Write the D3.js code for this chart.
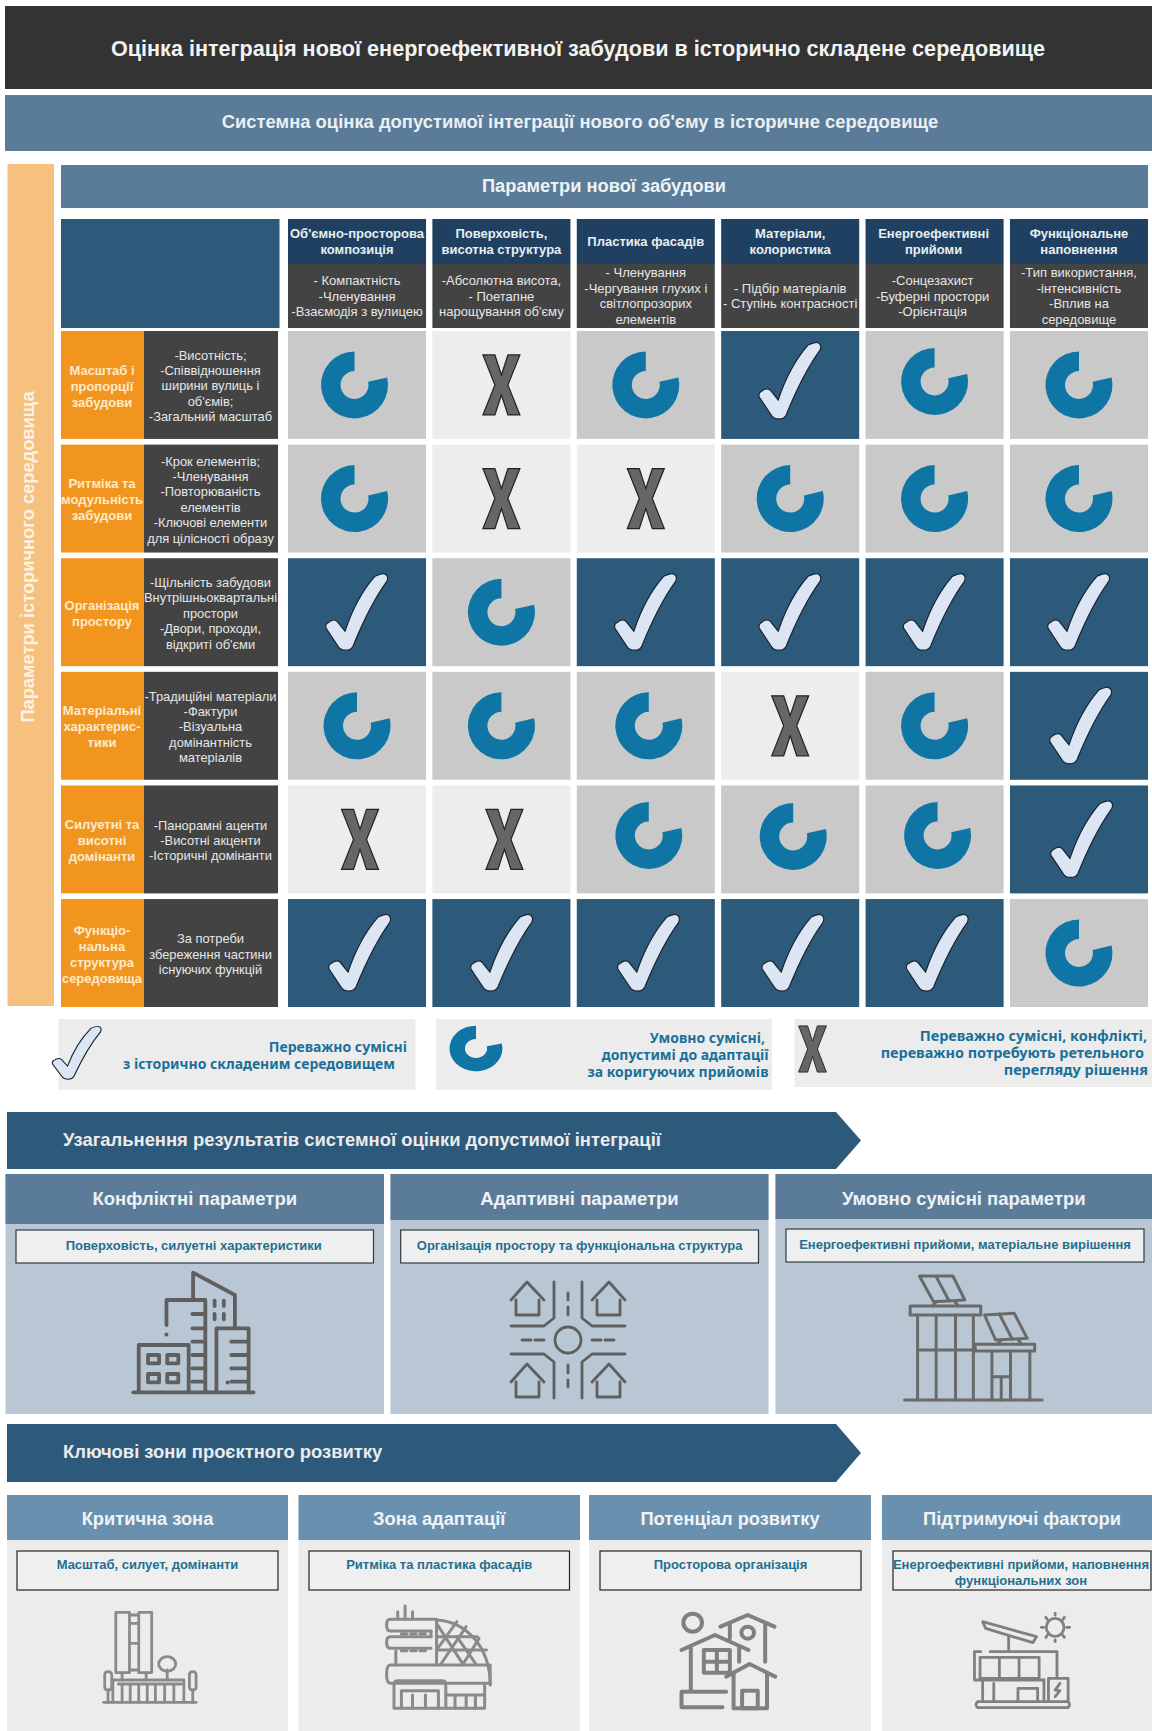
<!DOCTYPE html>
<html lang="uk">
<head>
<meta charset="utf-8">
<title>Оцінка інтеграції нової забудови</title>
<script src="https://cdnjs.cloudflare.com/ajax/libs/d3/7.8.5/d3.min.js"></script>
<style>
  html, body { margin: 0; padding: 0; background: #fff; }
  svg { display: block; }
  text { font-family: "Liberation Sans", Arial, sans-serif; }
  .legend-text { font-family: "Noto Sans", sans-serif; font-weight: 700; fill: #1a7099; }
</style>
</head>
<body>
<div id="chart"></div>
<script>
var titleText = "Оцінка інтеграція нової енергоефективної забудови в історично складене середовище";
var subtitleText = "Системна оцінка допустимої інтеграції нового об'єму в історичне середовище";
var sideText = "Параметри історичного середовища";
var topBandText = "Параметри нової забудови";

var columns = [
  ["Об'ємно-просторова", "композиція"],
  ["Поверховість,", "висотна структура"],
  ["Пластика фасадів"],
  ["Матеріали,", "колористика"],
  ["Енергоефективні", "прийоми"],
  ["Функціональне", "наповнення"]
];
var columnNotes = [
  ["- Компактність", "-Членування", "-Взаємодія з вулицею"],
  ["-Абсолютна висота,", "- Поетапне", "нарощування об'єму"],
  ["- Членування", "-Чергування глухих і", "світлопрозорих", "елементів"],
  ["- Підбір матеріалів", "- Ступінь контрасності"],
  ["-Сонцезахист", "-Буферні простори", "-Орієнтація"],
  ["-Тип використання,", "-інтенсивність", "-Вплив на", "середовище"]
];
var rows = [
  ["Масштаб і", "пропорції", "забудови"],
  ["Ритміка та", "модульність", "забудови"],
  ["Організація", "простору"],
  ["Матеріальні", "характерис-", "тики"],
  ["Силуетні та", "висотні", "домінанти"],
  ["Функціо-", "нальна", "структура", "середовища"]
];
var rowNotes = [
  ["-Висотність;", "-Співвідношення", "ширини вулиць і", "об'ємів;", "-Загальний масштаб"],
  ["-Крок елементів;", "-Членування", "-Повторюваність", "елементів", "-Ключові елементи", "для цілісності образу"],
  ["-Щільність забудови", "Внутрішньоквартальні", "простори", "-Двори, проходи,", "відкриті об'єми"],
  ["-Традиційні матеріали", "-Фактури", "-Візуальна", "домінантність", "матеріалів"],
  ["-Панорамні аценти", "-Висотні акценти", "-Історичні домінанти"],
  ["За потреби", "збереження частини", "існуючих функцій"]
];
// y = сумісні, c = умовно сумісні, n = конфлікт
var ratings = [
  ["c", "n", "c", "y", "c", "c"],
  ["c", "n", "n", "c", "c", "c"],
  ["y", "c", "y", "y", "y", "y"],
  ["c", "c", "c", "n", "c", "y"],
  ["n", "n", "c", "c", "c", "y"],
  ["y", "y", "y", "y", "y", "c"]
];

var legendYes = ["Переважно сумісні", "з історично складеним середовищем"];
var legendCond = ["Умовно сумісні,", "допустимі до адаптації", "за коригуючих прийомів"];
var legendNo = ["Переважно сумісні, конфлікті,", "переважно потребують ретельного", "перегляду рішення"];

var arrowTitle1 = "Узагальнення результатів системної оцінки допустимої інтеграції";
var arrowTitle2 = "Ключові зони проєктного розвитку";
var summaryTitles = ["Конфліктні параметри", "Адаптивні параметри", "Умовно сумісні параметри"];
var summaryNotes = ["Поверховість, силуетні характеристики", "Організація простору та функціональна структура", "Енергоефективні прийоми, матеріальне вирішення"];
var zoneTitles = ["Критична зона", "Зона адаптації", "Потенціал розвитку", "Підтримуючі фактори"];
var zoneNotes = [
  ["Масштаб, силует, домінанти"],
  ["Ритміка та пластика фасадів"],
  ["Просторова організація"],
  ["Енергоефективні прийоми, наповнення", "функціональних зон"]
];

var svg = d3.select("#chart").append("svg")
  .attr("width", 1152)
  .attr("height", 1731)
  .attr("viewBox", "0 0 1152 1731");

var blue = "#2d5a7b", steel = "#5b7c99", dark = "#434343", orange = "#f2951e";

function box(parent, x0, y0, x1, y1, fill) {
  return parent.append("rect")
    .attr("x", x0).attr("y", y0)
    .attr("width", x1 - x0).attr("height", y1 - y0)
    .attr("fill", fill);
}

// багаторядковий текст, cy - центр блоку
function lines(parent, list, x, cy, lh, size, weight, color, anchor) {
  var t = parent.append("text")
    .attr("text-anchor", anchor || "middle")
    .attr("font-size", size)
    .attr("font-weight", weight)
    .attr("fill", color);
  list.forEach(function(s, i) {
    t.append("tspan")
      .attr("x", x)
      .attr("y", cy + (i - (list.length - 1) / 2) * lh + size * 0.35)
      .text(s);
  });
  return t;
}

// шапка
box(svg, 5, 6, 1152, 89, "#333333");
lines(svg, [titleText], 578, 48.5, 0, 21.6, 700, "#f2f2f2");
box(svg, 5, 95, 1152, 151, steel);
lines(svg, [subtitleText], 580, 122, 0, 18.4, 700, "#eaf0f4");

box(svg, 7.5, 164, 54, 1006, "#f6c07e");
svg.append("text")
  .attr("transform", "translate(34,557) rotate(-90)")
  .attr("text-anchor", "middle")
  .attr("font-size", 18.3)
  .attr("font-weight", 700)
  .attr("fill", "#fdf2e3")
  .text(sideText);

box(svg, 61, 165, 1148, 208, steel);
lines(svg, [topBandText], 604, 186, 0, 18.3, 700, "#eef3f6");
box(svg, 61, 219, 279.5, 328, blue);

// сітка матриці
var x = d3.scaleBand()
  .domain(d3.range(columns.length))
  .range([288, 1148])
  .paddingInner(0.044);
var y = d3.scaleBand()
  .domain(d3.range(rows.length))
  .range([331, 1007])
  .paddingInner(0.05);

var colHead = svg.selectAll("g.col-head")
  .data(columns)
  .enter().append("g")
  .attr("class", "col-head");
colHead.each(function(d, i) {
  var g = d3.select(this), x0 = x(i), x1 = x(i) + x.bandwidth();
  box(g, x0, 219, x1, 264, "#1f4060");
  box(g, x0, 264, x1, 328, dark);
  lines(g, d, (x0 + x1) / 2 - (i === 4 ? 1 : 0), 241, 16, 13, 700, "#e8eef2");
  lines(g, columnNotes[i], (x0 + x1) / 2 - (i === 4 ? 2 : 0), 296, 15.6, 13, 400, "#e6e6e6");
});

var rowHead = svg.selectAll("g.row-head")
  .data(rows)
  .enter().append("g")
  .attr("class", "row-head");
rowHead.each(function(d, i) {
  var g = d3.select(this), y0 = y(i), y1 = y(i) + y.bandwidth(), yc = (y0 + y1) / 2;
  box(g, 61, y0, 144, y1, orange);
  box(g, 144, y0, 278, y1, dark);
  lines(g, d, 102, yc + 1, 16, 13, 700, "#fdeacb");
  lines(g, rowNotes[i], 210.5, yc + 1, 15.4, 12.9, 400, "#e6e6e6");
});

var cellFill = { y: blue, c: "#c9c9c9", n: "#ededed" };

var cellData = [];
ratings.forEach(function(row, r) {
  row.forEach(function(v, c) {
    cellData.push({ row: r, col: c, value: v });
  });
});

// значки: галочка, розімкнуте кільце, хрестик
var checkPath = "M18,-36Q24,-39 27,-38.5Q32,-37 30,-31C22,-20 9,2 -4,34Q-6,38 -11,38Q-17,38 -19,34L-31,16Q-32,12 -29,10.5Q-24,6 -20,9L-12,19C-7,4 3,-19 18,-36Z";
var crossPath = "M-18.5,-30L-6.5,-30L0,-10L6.5,-30L18.5,-30L6.5,0L18.5,30L6.5,30L0,10L-6.5,30L-18.5,30L-6.5,0Z";
var ringPath = d3.arc()
  .innerRadius(14)
  .outerRadius(33.5)
  .startAngle(77 * Math.PI / 180)
  .endAngle(2 * Math.PI)();

function drawMark(g, v, thin) {
  if (v === "y") {
    g.append("path").attr("d", checkPath)
      .attr("fill", "#dbe5f4").attr("stroke", "#1a2430").attr("stroke-width", thin ? 1.4 : 1.2);
  } else if (v === "c") {
    g.append("path").attr("d", ringPath).attr("fill", "#0f75a5");
  } else {
    g.append("path").attr("d", crossPath)
      .attr("fill", "#666666").attr("stroke", "#222222").attr("stroke-width", 1.2);
  }
}

// значки в оригіналі стоять трохи нерівно
var glyphShift = [0, 0, 0, 2, 3, 3];
var nudges = {
  "0,0": [-2.5, 0], "1,0": [-2.5, 0], "0,3": [0, -4], "0,4": [0, -3.5],
  "3,0": [-2, 0], "3,1": [-2, 0], "3,3": [-2, 0], "3,4": [-2, 0], "3,2": [1, 0],
  "4,2": [0, -4], "4,3": [0, -3], "4,4": [0, -4], "5,1": [-2.5, 0], "5,5": [-3, 0]
};
var cells = svg.selectAll("g.cell")
  .data(cellData)
  .enter().append("g")
  .attr("class", "cell");
cells.append("rect")
  .attr("x", function(d) { return x(d.col); })
  .attr("y", function(d) { return y(d.row); })
  .attr("width", x.bandwidth())
  .attr("height", y.bandwidth())
  .attr("fill", function(d) { return cellFill[d.value]; });
cells.append("g")
  .attr("transform", function(d) {
    var n = nudges[d.row + "," + d.col] || [0, 0];
    return "translate(" + (x(d.col) + x.bandwidth() / 2 + glyphShift[d.row] + n[0]) + "," + (y(d.row) + y.bandwidth() / 2 + n[1]) + ")";
  })
  .each(function(d) { drawMark(d3.select(this), d.value); });

// легенда
box(svg, 58.5, 1019, 415.5, 1090, "#ececec");
drawMark(svg.append("g").attr("transform", "translate(77,1053) scale(0.79,0.69)"), "y", true);
lines(svg, [legendYes[0]], 407, 1047, 0, 14, 700, "#1a7099", "end").attr("class", "legend-text");
lines(svg, [legendYes[1]], 395, 1064, 0, 14, 700, "#1a7099", "end").attr("class", "legend-text");

box(svg, 436, 1019, 772, 1090, "#ececec");
drawMark(svg.append("g").attr("transform", "translate(476,1048.5) scale(0.79,0.68)"), "c");
lines(svg, [legendCond[0]], 765, 1038, 0, 14, 700, "#1a7099", "end").attr("class", "legend-text");
lines(svg, legendCond.slice(1), 768.5, 1063.5, 17, 14, 700, "#1a7099", "end").attr("class", "legend-text");

box(svg, 794.5, 1019, 1152, 1087, "#ececec");
drawMark(svg.append("g").attr("transform", "translate(812.5,1049) scale(0.75,0.77)"), "n");
lines(svg, [legendNo[0]], 1147, 1036, 0, 14.45, 700, "#1a7099", "end").attr("class", "legend-text");
lines(svg, [legendNo[1]], 1144, 1053, 0, 14.45, 700, "#1a7099", "end").attr("class", "legend-text");
lines(svg, [legendNo[2]], 1148, 1070, 0, 14.45, 700, "#1a7099", "end").attr("class", "legend-text");

// стрілки
function arrow(y0, y1, label) {
  var pts = [[7, y0], [836, y0], [861, (y0 + y1) / 2], [836, y1], [7, y1]];
  svg.append("path")
    .attr("d", d3.line()(pts) + "Z")
    .attr("fill", blue);
  lines(svg, [label], 63, (y0 + y1) / 2 - 1, 0, 18.4, 700, "#ebebeb", "start");
}
arrow(1112, 1169, arrowTitle1);
arrow(1424, 1482, arrowTitle2);

// іконки: контури у власних координатах, товщина лінії не масштабується
function icon(tx, ty, sx, sy, color, width, paths) {
  var g = svg.append("g")
    .attr("transform", "translate(" + tx + "," + ty + ") scale(" + sx + "," + sy + ")")
    .attr("fill", "none")
    .attr("stroke", color)
    .attr("stroke-linecap", "round")
    .attr("stroke-linejoin", "round");
  paths.forEach(function(p) {
    g.append("path")
      .attr("d", p)
      .attr("vector-effect", "non-scaling-stroke")
      .attr("stroke-width", width);
  });
}

var iconTower = [
  "M360,1177H685",
  "M450,975V900H555V1177",
  "M450,1003V1004",
  "M522,895V818L635,885V980",
  "M580,902V918M605,902V918M580,942V958M605,942V958",
  "M520,942H555M520,985H555M520,1025H555M520,1065H555M520,1105H555M520,1145H555",
  "M585,1177V985H672V1177",
  "M625,1025H672M625,1065H672M625,1105H672M625,1145H672M615,1147V1148",
  "M375,1177V1035H510V1177",
  "M400,1065H430V1090H400ZM452,1065H482V1090H452ZM400,1122H430V1147H400ZM452,1122H482V1147H452Z"
];
var iconCross = [
  "M-57,-40L-41,-58L-24,-40M-52,-40V-25H-29V-40",
  "M-14,-58V-22L-24,-14H-57",
  "M0,-47V-40M0,-33V-25",
  "M-46,0H-37M-33,0H-24",
  "M-57,42L-41,24L-24,42M-52,42V57H-29V42",
  "M-14,58V22L-24,14H-57",
  "M0,25V33M0,40V47",
  "M57,-40L41,-58L24,-40M52,-40V-25H29V-40",
  "M14,-58V-22L24,-14H57",
  "M46,0H37M33,0H24",
  "M57,42L41,24L24,42M52,42V57H29V42",
  "M14,58V22L24,14H57",
  "M13,0A13,13 0 1 0 -13,0A13,13 0 1 0 13,0"
];
var iconSolar = [
  "M900,1200H1270",
  "M915,918H1105V945H915Z",
  "M935,945V1200M985,945V1200M1037,945V1200M1085,945V1200",
  "M1090,1033H1250V1053H1090Z",
  "M935,1050H1090",
  "M1135,1053V1200M1185,1053V1200M1237,1053V1200",
  "M1140,1130H1185M1160,1130V1200",
  "M940,828L1030,828L1062,900L978,905Z",
  "M985,830L1020,903M985,905L975,918M1035,905L1045,918",
  "M1115,945L1195,940L1230,1015L1145,1020Z",
  "M1155,942L1190,1018M1160,1020L1150,1033M1205,1018L1215,1033"
];
var iconMonument = [
  "M280,667H530",
  "M313,397H350V578H313ZM375,397H410V578H375Z",
  "M350,405H375M350,430H375M350,490H375M350,570H375",
  "M305,667V600H497V667M320,612H490",
  "M330,615V667M352,615V667M375,615V667M398,615V667M420,615V667M445,615V667M470,615V667",
  "M330,578V600M395,578V600",
  "M475,552A23,22 0 1 0 429,552A23,22 0 1 0 475,552M452,570V600",
  "M283,585Q283,575 292,575Q302,575 302,585V620Q302,630 292,630Q283,630 283,620ZM292,630V667",
  "M512,585Q512,575 521,575Q530,575 530,585V620Q530,630 521,630Q512,630 512,620ZM521,630V667"
];
var iconDome = [
  "M1095,378V415M1075,395V415M1115,395V415",
  "M1180,420C1260,425 1325,500 1325,615",
  "M1055,418H1180M1055,418Q1045,418 1045,435Q1045,453 1055,453H1165",
  "M1055,470H1165M1055,470Q1045,470 1045,487Q1045,505 1055,505H1165",
  "M1085,461H1100M1110,461H1125M1135,461H1150M1085,512H1100M1110,512H1125M1135,512H1150",
  "M1070,512V555M1165,453V470",
  "M1180,420V555M1180,470H1290M1180,510H1315",
  "M1180,510L1235,425M1180,430L1250,550M1190,555L1260,440M1235,470L1285,550M1250,555L1295,475",
  "M1055,555H1325V610H1055Q1045,610 1045,582Q1045,555 1055,555Z",
  "M1065,685V612Q1065,602 1075,602H1195Q1205,602 1205,612V685M1065,685H1310M1310,610V685",
  "M1085,685V632H1185V685M1115,645V685M1150,645V685",
  "M1205,645H1310M1230,650V685M1260,650V685M1285,650V685"
];
var iconHouses = [
  "M355,428A25,27 0 1 0 305,428A25,27 0 1 0 355,428",
  "M405,440L478,405L550,440M525,430V545M430,430V475",
  "M495,458A17,18 0 1 0 461,458A17,18 0 1 0 495,458",
  "M300,510L390,465L480,510M325,500V630M455,500V545",
  "M360,510H430V578H360ZM395,510V578M360,545H430",
  "M420,590L483,552L552,590M440,580V685M530,580V685M440,685H530",
  "M463,632H505V685H463Z",
  "M410,682H300V635H420"
];
var iconSun = [
  "M1329,442A24,27 0 1 0 1281,442A24,27 0 1 0 1329,442",
  "M1305,400V405M1305,480V485M1268,442H1274M1336,442H1344M1280,412L1284,418M1330,412L1326,418M1280,472L1284,466M1330,472L1326,466",
  "M1110,425L1255,470L1245,488L1118,445Z",
  "M1180,470V515",
  "M1130,515H1310V590M1105,515H1088V600H1275",
  "M1103,532H1262V595H1103ZM1155,532V595M1208,532V595",
  "M1110,600V660M1140,610V660M1275,600V660",
  "M1205,660V625H1258V660",
  "M1287,665V595H1340V665",
  "M1318,610L1305,630L1318,632L1305,650",
  "M1097,665H1340Q1347,674 1340,683H1097Q1087,674 1097,665Z"
];

// панелі узагальнення
var summaryEdges = [[5.5, 384, 1224, 16, 373.5, 1230, 1245.5], [390.5, 768.5, 1220, 400.7, 758.5, 1230, 1245.5], [775.5, 1152, 1219, 786, 1144, 1229, 1244]];
summaryTitles.forEach(function(t, i) {
  var e = summaryEdges[i];
  box(svg, e[0], 1174, e[1], 1414, "#b8c7d3");
  box(svg, e[0], 1174, e[1], e[2], steel);
  lines(svg, [t], (e[0] + e[1]) / 2, 1198.5, 0, 18.5, 700, "#eef2f5");
  box(svg, e[3], e[5], e[4], e[5] + 33, "#efefef").attr("stroke", "#2f3b45").attr("stroke-width", 1.2);
  lines(svg, [summaryNotes[i]], (e[3] + e[4]) / 2 - (i === 0 ? 1 : 0), e[6], 0, 13, 700, "#1f6f8f");
});

icon(0, 1000, 1 / 2.703, 1 / 3, "#5f5f5f", 3.8, iconTower);
icon(568, 1340, 1, 1, "#5f5f5f", 2.8, iconCross);
icon(570, 1000, 1 / 2.69, 1 / 3, "#6a6a6a", 3, iconSolar);

// зони розвитку
var zoneEdges = [[7, 288, 17, 278], [298.5, 580, 309, 569.5], [589, 871, 600, 861], [882, 1152, 893, 1151]];
zoneTitles.forEach(function(t, i) {
  var e = zoneEdges[i];
  box(svg, e[0], 1495, e[1], 1731, "#ececec");
  box(svg, e[0], 1495, e[1], 1540, "#6a90b0");
  lines(svg, [t], (e[0] + e[1]) / 2 + (i === 3 ? 5 : 0), 1519, 0, 18.3, 700, "#f0f4f7");
  box(svg, e[2], 1551, e[3], 1590, "#efefef").attr("stroke", "#222").attr("stroke-width", 1.2);
  var n = zoneNotes[i];
  lines(svg, n, (e[2] + e[3]) / 2 + (i === 3 ? -1 : 0), 1564 + (n.length - 1) * 8, 16, 13, 700, "#1f6f8f");
});

icon(0, 1480, 1 / 2.703, 1 / 3, "#8a8a8a", 2.8, iconMonument);
icon(0, 1480, 1 / 2.703, 1 / 3, "#8a8a8a", 3, iconDome);
icon(570, 1480, 1 / 2.69, 1 / 3, "#808080", 4, iconHouses);
icon(570, 1480, 1 / 2.69, 1 / 3, "#808080", 2.8, iconSun);
</script>
</body>
</html>
